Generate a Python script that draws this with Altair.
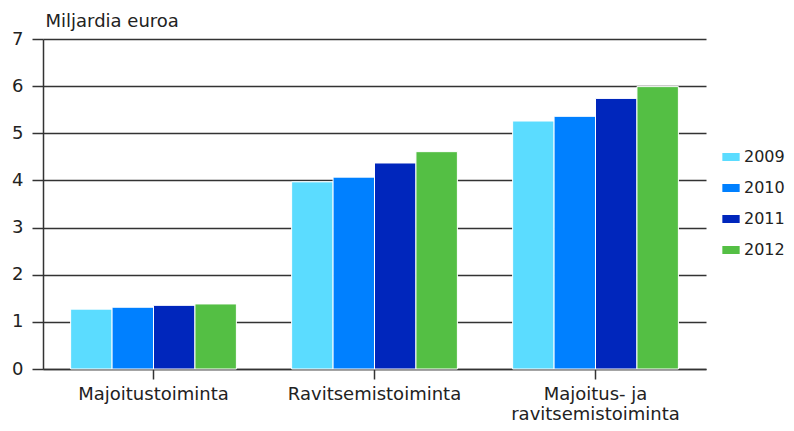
import altair as alt
import pandas as pd

categories = ["Majoitustoiminta", "Ravitsemistoiminta", "Majoitus- ja|ravitsemistoiminta"]
years = ["2009", "2010", "2011", "2012"]
values_2009 = [1.27, 3.97, 5.26]
values_2010 = [1.31, 4.07, 5.36]
values_2011 = [1.35, 4.37, 5.74]
values_2012 = [1.38, 4.61, 5.99]
colors = ["#5BDCFF", "#0080FF", "#0026BC", "#54BF44"]

series = [values_2009, values_2010, values_2011, values_2012]
rows = []
for y, vals in zip(years, series):
    for c, v in zip(categories, vals):
        rows.append({"category": c, "year": y, "value": v})
df = pd.DataFrame(rows)

FONT = "DejaVu Sans"
FS = 18

chart = alt.Chart(df).mark_bar(stroke="white", strokeWidth=1).encode(
    x=alt.X("category:N", sort=categories,
            scale=alt.Scale(paddingInner=0.25, paddingOuter=0.125),
            axis=alt.Axis(title=None, labelAngle=0, labelExpr="split(datum.label, '|')",
                          labelFontSize=FS, labelFont=FONT, labelColor="#222",
                          labelLineHeight=20, labelPadding=6, tickSize=10,
                          tickColor="#333", tickWidth=1.5, domainColor="#333",
                          domainWidth=1.5, grid=False)),
    xOffset=alt.XOffset("year:N", sort=years),
    y=alt.Y("value:Q", scale=alt.Scale(domain=[0, 7], nice=False),
            axis=alt.Axis(title="Miljardia euroa", titleAngle=0, titleX=2, titleY=-9,
                          titleAlign="left", titleBaseline="bottom",
                          titleFont=FONT, titleFontSize=FS, titleFontWeight="normal",
                          titleColor="#222",
                          values=[0, 1, 2, 3, 4, 5, 6, 7], tickSize=11,
                          labelFontSize=FS, labelFont=FONT, labelColor="#222",
                          labelPadding=9, tickColor="#333", tickWidth=1.5,
                          domainColor="#333", domainWidth=1.5,
                          grid=True, gridColor="#333", gridWidth=1.5)),
    color=alt.Color("year:N", sort=years,
                    scale=alt.Scale(domain=years, range=colors),
                    legend=alt.Legend(title=None, orient="none", legendX=679, legendY=109,
                                      symbolType="M-1,-0.46L1,-0.46L1,0.46L-1,0.46Z",
                                      symbolSize=300, symbolStrokeWidth=0,
                                      labelFont=FONT, labelFontSize=16, labelColor="#222",
                                      labelOffset=4, rowPadding=14, padding=0)),
).properties(
    width=663, height=330,
    autosize=alt.AutoSizeParams(type="none"),
    padding={"left": 35, "top": 31, "right": 80, "bottom": 54},
).configure_view(stroke=None)

chart.save("out.html", embed_options={"renderer": "svg", "actions": False})
